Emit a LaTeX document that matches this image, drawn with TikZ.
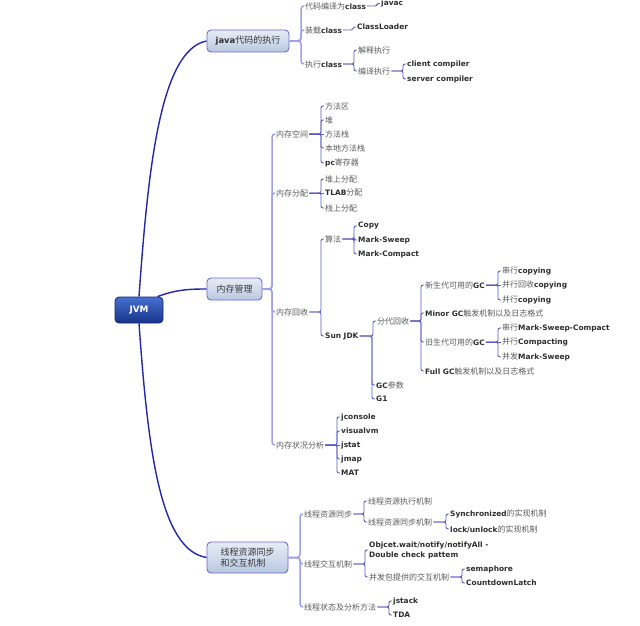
\documentclass[tikz,border=0pt]{standalone}
\usepackage{fontspec}
\setmainfont{Noto Sans CJK SC}
\newfontfamily\latb[Scale=0.93]{DejaVu Sans}
\usetikzlibrary{backgrounds}
\definecolor{cn}{HTML}{5A5A5A}
\definecolor{lt}{HTML}{2E2E2E}
\definecolor{mainln}{HTML}{2626A8}
\definecolor{brkA}{HTML}{A0A0E8}
\definecolor{brkB}{HTML}{5C5CC0}
\definecolor{lvlborder}{HTML}{6A6AD4}
\definecolor{lvltop}{HTML}{E8EDF6}
\definecolor{lvlbot}{HTML}{B8C8E0}
\definecolor{roottop}{HTML}{4670D0}
\definecolor{rootbot}{HTML}{163488}
\definecolor{rootborder}{HTML}{102A78}
\newcommand{\B}[1]{{\latb\bfseries\color{lt}#1}}
\newcommand{\lk}[3][brB]{\draw[#1] (#2.east) -| ([xshift=-3pt]#3.west) -- (#3.west);}
\newcommand{\ls}[3][brB]{\draw[#1] (#2.east) -- (#3.west);}
\begin{document}
\begin{tikzpicture}[x=1pt,y=-1pt,
  tx/.style={anchor=west,inner xsep=1pt,inner ysep=1pt,font=\fontsize{8}{10}\selectfont,text=cn},
  lvl/.style={draw=lvlborder,line width=0.9pt,rounded corners=4pt,top color=lvltop,bottom color=lvlbot,
    font=\fontsize{9}{11}\selectfont,text=black!78,inner sep=0pt},
  root/.style={draw=rootborder,line width=0.8pt,rounded corners=4pt,top color=roottop,bottom color=rootbot,
    font=\latb\bfseries\fontsize{9.5}{11}\selectfont,text=white,inner sep=0pt},
  brA/.style={draw=brkA,line width=1.5pt,rounded corners=3pt},
  brB/.style={draw=brkB,line width=0.9pt,rounded corners=2pt},
  brS/.style={draw=brkB,line width=0.9pt,rounded corners=1.5pt},
  mainc/.style={draw=mainln,line width=1.4pt}]
\fill[white] (0,0) rectangle (640,626);
\path[use as bounding box] (0,0) rectangle (640,626);

% root and level 1
\node[root,minimum width=48pt,minimum height=26pt] (jvm) at (139,310) {JVM};
\node[lvl,minimum width=82pt,minimum height=22pt] (java) at (248,41) {\B{java}代码的执行};
\node[lvl,minimum width=55pt,minimum height=22pt] (mm) at (234.5,289) {内存管理};
\node[lvl,minimum width=81pt,minimum height=31pt,align=left] (thr) at (247.5,557.5) {线程资源同步\\和交互机制};

\draw[mainc] (jvm.north) .. controls (148,170) and (160,50) .. (java.west);
\draw[mainc] ([xshift=-6pt]jvm.north east) to[out=20,in=180] (mm.west);
\draw[mainc] (jvm.south) .. controls (148,450) and (160,550) .. (thr.west);

% java branch
\node[tx] (j1) at (304,6) {代码编译为\B{class}};
\node[tx] (j2) at (304,30) {装载\B{class}};
\node[tx] (j3) at (304,64) {执行\B{class}};
\node[tx] (j1a) at (380,3.5) {\B{javac}};
\node[tx] (j2a) at (356,27) {\B{ClassLoader}};
\node[tx] (j3a) at (357,50) {解释执行};
\node[tx] (j3b) at (357,71) {编译执行};
\node[tx] (j3b1) at (406,64) {\B{client compiler}};
\node[tx] (j3b2) at (406,79) {\B{server compiler}};
\lk[brA]{java}{j1}\lk[brA]{java}{j2}\lk[brA]{java}{j3}
\lk[brS]{j1}{j1a}\lk[brS]{j2}{j2a}
\lk{j3}{j3a}\lk{j3}{j3b}
\lk{j3b}{j3b1}\lk{j3b}{j3b2}

% memory branch
\node[tx] (m1) at (275,134) {内存空间};
\node[tx] (m2) at (275,193) {内存分配};
\node[tx] (m3) at (275,312) {内存回收};
\node[tx] (m4) at (275,445) {内存状况分析};
\lk[brA]{mm}{m1}\lk[brA]{mm}{m2}\lk[brA]{mm}{m3}\lk[brA]{mm}{m4}

\node[tx] (m1a) at (324,106) {方法区};
\node[tx] (m1b) at (324,120) {堆};
\node[tx] (m1c) at (324,134) {方法栈};
\node[tx] (m1d) at (324,148) {本地方法栈};
\node[tx] (m1e) at (324,163) {\B{pc}寄存器};
\lk{m1}{m1a}\lk{m1}{m1b}\ls{m1}{m1c}\lk{m1}{m1d}\lk{m1}{m1e}

\node[tx] (m2a) at (324,179) {堆上分配};
\node[tx] (m2b) at (324,193) {\B{TLAB}分配};
\node[tx] (m2c) at (324,208) {栈上分配};
\lk{m2}{m2a}\ls{m2}{m2b}\lk{m2}{m2c}

\node[tx] (alg) at (324,239) {算法};
\node[tx] (sun) at (324,336) {\B{Sun JDK}};
\lk{m3}{alg}\lk{m3}{sun}

\node[tx] (a1) at (357,226) {\B{Copy}};
\node[tx] (a2) at (357,240) {\B{Mark-Sweep}};
\node[tx] (a3) at (357,254) {\B{Mark-Compact}};
\lk{alg}{a1}\lk{alg}{a2}\lk{alg}{a3}

\node[tx] (fd) at (376,321) {分代回收};
\node[tx] (gcp) at (375,385) {\B{GC}参数};
\node[tx] (g1) at (375,399) {\B{G1}};
\lk{sun}{fd}\lk{sun}{gcp}\lk{sun}{g1}

\node[tx] (ny) at (424,285) {新生代可用的\B{GC}};
\node[tx] (mi) at (424,313) {\B{Minor GC}触发机制以及日志格式};
\node[tx] (old) at (424,342) {旧生代可用的\B{GC}};
\node[tx] (fu) at (424,371) {\B{Full GC}触发机制以及日志格式};
\lk{fd}{ny}\lk{fd}{mi}\lk{fd}{old}\lk{fd}{fu}

\node[tx] (ny1) at (501,271) {串行\B{copying}};
\node[tx] (ny2) at (501,285) {并行回收\B{copying}};
\node[tx] (ny3) at (501,300) {并行\B{copying}};
\lk{ny}{ny1}\ls{ny}{ny2}\lk{ny}{ny3}

\node[tx] (o1) at (501,328) {串行\B{Mark-Sweep-Compact}};
\node[tx] (o2) at (501,342) {并行\B{Compacting}};
\node[tx] (o3) at (501,357) {并发\B{Mark-Sweep}};
\lk{old}{o1}\ls{old}{o2}\lk{old}{o3}

\node[tx] (s1) at (340,417) {\B{jconsole}};
\node[tx] (s2) at (340,431) {\B{visualvm}};
\node[tx] (s3) at (340,445) {\B{jstat}};
\node[tx] (s4) at (340,459) {\B{jmap}};
\node[tx] (s5) at (340,473) {\B{MAT}};
\lk{m4}{s1}\lk{m4}{s2}\ls{m4}{s3}\lk{m4}{s4}\lk{m4}{s5}

% thread branch
\node[tx] (t1) at (303,514) {线程资源同步};
\node[tx] (t2) at (303,564) {线程交互机制};
\node[tx] (t3) at (303,607) {线程状态及分析方法};
\lk[brA]{thr}{t1}\lk[brA]{thr}{t2}\lk[brA]{thr}{t3}

\node[tx] (t1a) at (367,501) {线程资源执行机制};
\node[tx] (t1b) at (367,522) {线程资源同步机制};
\lk{t1}{t1a}\lk{t1}{t1b}
\node[tx] (t1b1) at (449,514) {\B{Synchronized}的实现机制};
\node[tx] (t1b2) at (449,529) {\B{lock/unlock}的实现机制};
\lk{t1b}{t1b1}\lk{t1b}{t1b2}

\node[tx,align=left] (t2a) at (368,550) {\B{Objcet.wait/notify/notifyAll -}\\\B{Double check pattem}};
\node[tx] (t2b) at (368,577) {并发包提供的交互机制};
\lk{t2}{t2a}\lk{t2}{t2b}
\node[tx] (t2b1) at (465,569) {\B{semaphore}};
\node[tx] (t2b2) at (465,583) {\B{CountdownLatch}};
\lk{t2b}{t2b1}\lk{t2b}{t2b2}

\node[tx] (t3a) at (392,601) {\B{jstack}};
\node[tx] (t3b) at (392,615) {\B{TDA}};
\lk{t3}{t3a}\lk{t3}{t3b}
\end{tikzpicture}
\end{document}
